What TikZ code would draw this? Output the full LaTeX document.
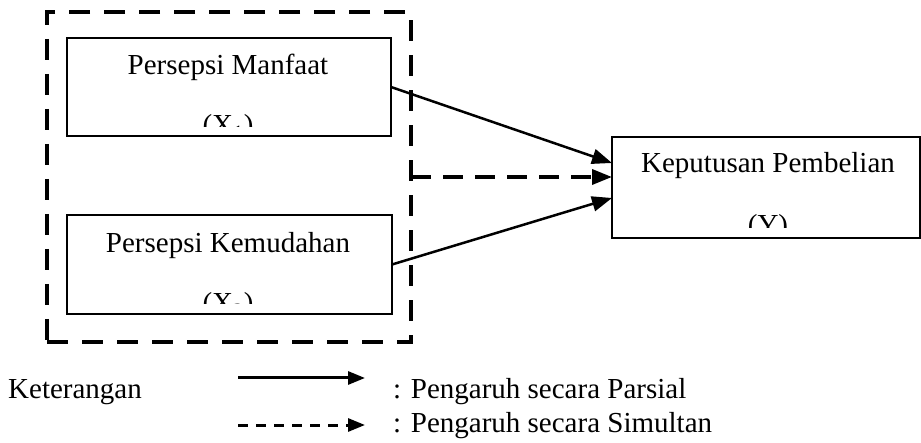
\documentclass[tikz,border=0pt]{standalone}
\usepackage{fontspec}
\setmainfont{Liberation Serif}
\usetikzlibrary{arrows.meta}
\begin{document}
\begin{tikzpicture}[x=1pt,y=-1pt,
  box/.style={draw,line width=1.5pt,inner sep=0pt,outer sep=0pt,anchor=north west},
  grp/.style={draw,line width=4pt,dash pattern=on 21pt off 14pt,inner sep=0pt,outer sep=0pt,anchor=north west},
  txt/.style={inner sep=0pt,font=\fontsize{29}{35}\selectfont},
  partial/.style={line width=2.5pt,-{Triangle[length=20pt,width=15pt]}},
  simult/.style={line width=3.5pt,dash pattern=on 20pt off 12pt,-{Triangle[length=20pt,width=15pt]}},
  legsolid/.style={line width=3pt,-{Triangle[length=17pt,width=13pt]}},
  legdash/.style={line width=3pt,dash pattern=on 10pt off 8pt,-{Triangle[length=17pt,width=13pt]}}]
\useasboundingbox (0,0) rectangle (921,443);
% boxes
\node[grp,minimum width=364pt,minimum height=330pt] (grp) at (47,12) {};
\node[box,minimum width=324pt,minimum height=98pt] (b1) at (67,38) {};
\node[box,minimum width=325pt,minimum height=99pt] (b2) at (67,215) {};
\node[box,minimum width=308pt,minimum height=101pt] (y) at (612,137) {};
% texts
\node[txt,anchor=base] (b1t) at (228,75) {Persepsi Manfaat};
\begin{scope}
\clip (b1.north west) rectangle ([yshift=9pt]b1.south east);
\node[txt,anchor=base] (b1x) at (228,135) {(X\textsubscript{1})};
\end{scope}
\node[txt,anchor=base] (b2t) at (228,253) {Persepsi Kemudahan};
\begin{scope}
\clip (b2.north west) rectangle ([yshift=10pt]b2.south east);
\node[txt,anchor=base] (b2x) at (228,313) {(X\textsubscript{2})};
\end{scope}
\node[txt,anchor=base] (yt) at (768,173) {Keputusan Pembelian};
\begin{scope}
\clip (y.north west) rectangle ([yshift=10pt]y.south east);
\node[txt,anchor=base] (yx) at (768,235) {(Y)};
\end{scope}
% connectors
\path (y.north west) ++(0,26) coordinate (e1) ++(0,14) coordinate (e2) ++(0,21) coordinate (e3);
\draw[partial] (b1.east) -- (e1);
\draw[simult] (grp.east) -- (e2);
\draw[partial] (b2.east) -- (e3);
% legend
\node[txt,anchor=base west] (ket) at (8,399) {Keterangan};
\coordinate (l1a) at (238,378);
\coordinate (l1b) at (365,378);
\coordinate (l2a) at (238,425);
\coordinate (l2b) at (365,425);
\draw[legsolid] (l1a) -- (l1b);
\draw[legdash] (l2a) -- (l2b);
\node[txt,anchor=base west] (lt1) at (393,399) {: Pengaruh secara Parsial};
\node[txt,anchor=base west] (lt2) at (393,432) {: Pengaruh secara Simultan};
\end{tikzpicture}
\end{document}
